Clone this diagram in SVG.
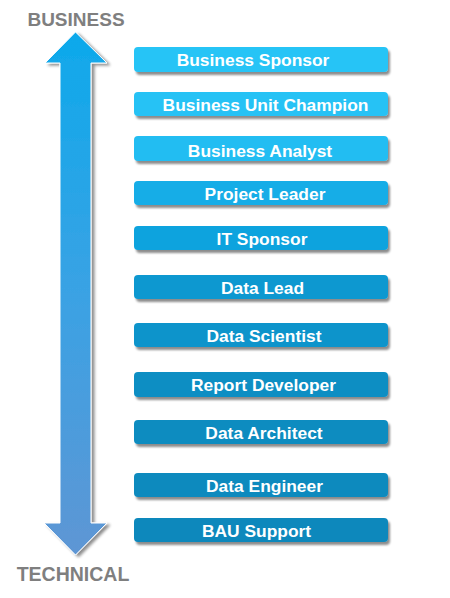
<svg xmlns="http://www.w3.org/2000/svg" width="450" height="598" viewBox="0 0 450 598">
  <defs>
    <linearGradient id="arrowGrad" x1="0" y1="32" x2="0" y2="555" gradientUnits="userSpaceOnUse">
      <stop offset="0" stop-color="#0DA9EB"/>
      <stop offset="0.5" stop-color="#3AA2E4"/>
      <stop offset="1" stop-color="#5E96D4"/>
    </linearGradient>
    <filter id="shadow" x="-20%" y="-20%" width="150%" height="150%">
      <feGaussianBlur in="SourceAlpha" stdDeviation="1.5"/>
      <feOffset dx="3" dy="2" result="ob"/>
      <feComponentTransfer><feFuncA type="linear" slope="0.45"/></feComponentTransfer>
      <feMerge><feMergeNode/><feMergeNode in="SourceGraphic"/></feMerge>
    </filter>
    <filter id="boxShadow" x="-5%" y="-30%" width="112%" height="170%">
      <feGaussianBlur in="SourceAlpha" stdDeviation="1.3"/>
      <feOffset dx="2" dy="2.5" result="ob"/>
      <feComponentTransfer><feFuncA type="linear" slope="0.45"/></feComponentTransfer>
      <feMerge><feMergeNode/><feMergeNode in="SourceGraphic"/></feMerge>
    </filter>
  </defs>
  <style>
    .lbl { font-family: "Liberation Sans", Arial, sans-serif; font-weight: bold; font-size: 17.4px; fill: #FFFFFF; text-anchor: middle; }
    .axis { font-family: "Liberation Sans", Arial, sans-serif; font-weight: bold; fill: #7F7F7F; text-anchor: middle; }
    .box { filter: url(#boxShadow); }
  </style>
  <rect width="450" height="598" fill="#FFFFFF"/>

  <g id="axis">
    <path d="M75.5,32 L107,63 L91,63 L91,523 L107,523 L75.5,555 L44,523 L60,523 L60,63 L45,63 Z" fill="url(#arrowGrad)" stroke="#FFFFFF" stroke-width="1" filter="url(#shadow)"/>
    <text class="axis" x="76" y="25.5" font-size="19">BUSINESS</text>
    <text class="axis" x="73" y="581" font-size="19.5">TECHNICAL</text>
  </g>

  <g id="n1"><rect class="box" x="134" y="47" width="254" height="25" rx="4" fill="#28C4F6"/><text class="lbl" x="253" y="66">Business Sponsor</text></g>
  <g id="n2"><rect class="box" x="134" y="92" width="254" height="24" rx="4" fill="#27C2F5"/><text class="lbl" x="265.5" y="110.5">Business Unit Champion</text></g>
  <g id="n3"><rect class="box" x="134" y="136" width="254" height="25" rx="4" fill="#22BDF2"/><text class="lbl" x="260" y="156.5">Business Analyst</text></g>
  <g id="n4"><rect class="box" x="134" y="181" width="254" height="24" rx="4" fill="#14ADE7"/><text class="lbl" x="265" y="199.5">Project Leader</text></g>
  <g id="n5"><rect class="box" x="134" y="226" width="254" height="24" rx="4" fill="#0FA3DE"/><text class="lbl" x="262" y="244.5">IT Sponsor</text></g>
  <g id="n6"><rect class="box" x="134" y="275" width="254" height="24" rx="4" fill="#0C98D0"/><text class="lbl" x="262.5" y="293.5">Data Lead</text></g>
  <g id="n7"><rect class="box" x="134" y="323" width="254" height="24" rx="4" fill="#0B94CB"/><text class="lbl" x="264" y="341.5">Data Scientist</text></g>
  <g id="n8"><rect class="box" x="134" y="372" width="254" height="25" rx="4" fill="#0A8EC3"/><text class="lbl" x="263.5" y="390.5">Report Developer</text></g>
  <g id="n9"><rect class="box" x="134" y="420" width="254" height="24" rx="4" fill="#0A8CC0"/><text class="lbl" x="264" y="438.5">Data Architect</text></g>
  <g id="n10"><rect class="box" x="134" y="473" width="254" height="24" rx="4" fill="#0A8ABE"/><text class="lbl" x="264.5" y="491.5">Data Engineer</text></g>
  <g id="n11"><rect class="box" x="134" y="518" width="254" height="24" rx="4" fill="#0A88BC"/><text class="lbl" x="256.5" y="536.5">BAU Support</text></g>

  <g id="connectors"></g>
</svg>
